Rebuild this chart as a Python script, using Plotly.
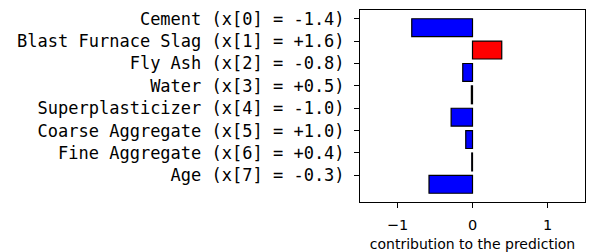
import plotly.graph_objects as go

features = ["Cement", "Blast Furnace Slag", "Fly Ash", "Water",
            "Superplasticizer", "Coarse Aggregate", "Fine Aggregate", "Age"]
feature_values = ["-1.4", "+1.6", "-0.8", "+0.5", "-1.0", "+1.0", "+0.4", "-0.3"]
contributions = [-0.81, 0.39, -0.13, -0.015, -0.285, -0.09, -0.01, -0.58]
x_ticks = [-1, 0, 1]

labels = [f"{n} (x[{i}] = {v})" for i, (n, v) in enumerate(zip(features, feature_values))]
positions = list(range(len(features)))
colors = ["#ff0000" if c > 0 else "#0000ff" for c in contributions]

fig = go.Figure(go.Bar(
    x=contributions, y=positions, orientation="h",
    width=0.8, offset=0,
    marker=dict(color=colors, line=dict(color="black", width=1.2)),
    hoverinfo="skip",
))

fig.update_layout(
    width=590, height=252,
    margin=dict(l=360, r=5, t=10, b=50),
    plot_bgcolor="white", paper_bgcolor="white",
    showlegend=False, hovermode=False, dragmode=False,
    font=dict(family="DejaVu Sans", color="black", size=14),
)
fig.update_yaxes(
    range=[8.19, -0.39], tickvals=positions, ticktext=labels,
    tickfont=dict(family="DejaVu Sans Mono", size=17, color="black"),
    ticks="outside", ticklen=5, tickwidth=1, tickcolor="black",
    showline=True, linecolor="black", linewidth=1, mirror=True,
    showgrid=False, zeroline=False, ticklabelstandoff=6, automargin=False,
)
fig.update_xaxes(
    range=[-1.5, 1.5], tickvals=x_ticks, ticktext=["\u22121", "0", "1"],
    tickfont=dict(family="DejaVu Sans", size=14.5, color="black"),
    ticks="outside", ticklen=5, tickwidth=1, tickcolor="black",
    showline=True, linecolor="black", linewidth=1, mirror=True,
    showgrid=False, zeroline=False, automargin=False, ticklabelstandoff=5,
    title=dict(text="contribution to the prediction",
               font=dict(family="DejaVu Sans", size=14, color="black"), standoff=9),
)

fig.write_html("out.html", config={"displayModeBar": False, "staticPlot": True},
               post_script="document.body.style.margin='0';")
